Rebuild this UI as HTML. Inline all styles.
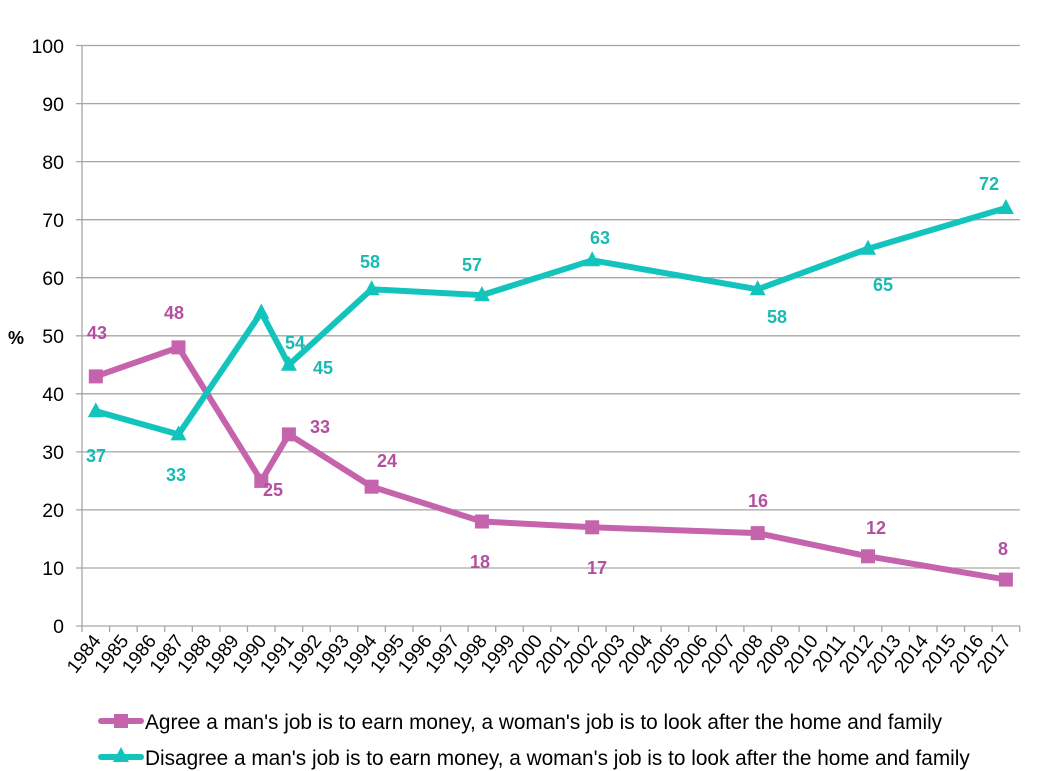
<!DOCTYPE html>
<html><head><meta charset="utf-8"><style>body{margin:0;background:#fff}svg{display:block}</style></head>
<body>
<svg width="1063" height="771" xmlns="http://www.w3.org/2000/svg" font-family="Liberation Sans, sans-serif">
<g stroke="#a6a6a6" stroke-width="1.3">
<line x1="76" y1="45.5" x2="1020" y2="45.5"/><line x1="76" y1="103.6" x2="1020" y2="103.6"/><line x1="76" y1="161.6" x2="1020" y2="161.6"/><line x1="76" y1="219.7" x2="1020" y2="219.7"/><line x1="76" y1="277.7" x2="1020" y2="277.7"/><line x1="76" y1="335.8" x2="1020" y2="335.8"/><line x1="76" y1="393.8" x2="1020" y2="393.8"/><line x1="76" y1="451.9" x2="1020" y2="451.9"/><line x1="76" y1="509.9" x2="1020" y2="509.9"/><line x1="76" y1="568" x2="1020" y2="568"/><line x1="76" y1="626" x2="1020" y2="626"/>
<line x1="82" y1="45.5" x2="82" y2="626"/>
</g>
<g id="ticks" stroke="#a6a6a6" stroke-width="1.3"></g>
<g font-size="19.5" text-anchor="end" fill="#000">
<text x="64" y="53">100</text><text x="64" y="111">90</text><text x="64" y="169">80</text><text x="64" y="227">70</text><text x="64" y="285">60</text><text x="64" y="343">50</text><text x="64" y="401">40</text><text x="64" y="459">30</text><text x="64" y="517">20</text><text x="64" y="575">10</text><text x="64" y="633">0</text>
</g>
<text x="8" y="344" font-size="18" font-weight="bold">%</text>
<g id="years" font-size="19" text-anchor="end"></g>
<polyline fill="none" stroke="#c564ac" stroke-width="6" stroke-linejoin="round" points="95.8,376.4 178.5,347.4 261.3,480.9 288.9,434.4 371.6,486.7 481.9,521.5 592.2,527.3 757.7,533.1 868,556.3 1005.9,579.6"/>
<polyline fill="none" stroke="#13c4bd" stroke-width="6" stroke-linejoin="round" points="95.8,411.2 178.5,434.4 261.3,312.5 288.9,364.8 371.6,289.3 481.9,295.1 592.2,260.3 757.7,289.3 868,248.7 1005.9,208"/>
<g id="mk"></g>
<g font-size="18" font-weight="bold" text-anchor="middle" fill="#b5509f">
<text x="97" y="339">43</text><text x="174" y="319">48</text><text x="273" y="496">25</text><text x="320" y="433">33</text><text x="387" y="467">24</text><text x="480" y="568">18</text><text x="597" y="574">17</text><text x="758" y="507">16</text><text x="876" y="534">12</text><text x="1003" y="555">8</text>
</g>
<g font-size="18" font-weight="bold" text-anchor="middle" fill="#1bb9b3">
<text x="96" y="462">37</text><text x="176" y="481">33</text><text x="295" y="349">54</text><text x="323" y="374">45</text><text x="370" y="268">58</text><text x="472" y="271">57</text><text x="600" y="244">63</text><text x="777" y="323">58</text><text x="883" y="291">65</text><text x="989" y="190">72</text>
</g>
<line x1="101" y1="721" x2="141" y2="721" stroke="#c564ac" stroke-width="6" stroke-linecap="round"/>
<rect x="114" y="714" width="14" height="14" fill="#c564ac"/>
<line x1="101" y1="757" x2="141" y2="757" stroke="#13c4bd" stroke-width="6" stroke-linecap="round"/>
<polygon points="121,747 129,762 113,762" fill="#13c4bd"/>
<text x="145" y="729" font-size="20.8">Agree a man's job is to earn money, a woman's job is to look after the home and family</text>
<text x="145" y="765" font-size="20.8">Disagree a man's job is to earn money, a woman's job is to look after the home and family</text>
<script>
var t=document.getElementById('ticks'),y=document.getElementById('years'),m=document.getElementById('mk'),ns='http://www.w3.org/2000/svg';
for(var i=0;i<=34;i++){var x=82+i*27.58;var l=document.createElementNS(ns,'line');l.setAttribute('x1',x);l.setAttribute('x2',x);l.setAttribute('y1',626);l.setAttribute('y2',632);t.appendChild(l);}
for(var i=0;i<34;i++){var x=95.8+i*27.58;var e=document.createElementNS(ns,'text');e.setAttribute('transform','translate('+(x+6)+',641) rotate(-52)');e.textContent=1984+i;y.appendChild(e);}
var A=[[95.8,376.4],[178.5,347.4],[261.3,480.9],[288.9,434.4],[371.6,486.7],[481.9,521.5],[592.2,527.3],[757.7,533.1],[868,556.3],[1005.9,579.6]];
var D=[[95.8,411.2],[178.5,434.4],[261.3,312.5],[288.9,364.8],[371.6,289.3],[481.9,295.1],[592.2,260.3],[757.7,289.3],[868,248.7],[1005.9,208]];
A.forEach(function(p){var r=document.createElementNS(ns,'rect');r.setAttribute('x',p[0]-7);r.setAttribute('y',p[1]-7);r.setAttribute('width',14);r.setAttribute('height',14);r.setAttribute('fill','#c564ac');m.appendChild(r);});
D.forEach(function(p){var r=document.createElementNS(ns,'polygon');r.setAttribute('points',p[0]+','+(p[1]-9)+' '+(p[0]+8)+','+(p[1]+6)+' '+(p[0]-8)+','+(p[1]+6));r.setAttribute('fill','#13c4bd');m.appendChild(r);});
</script>
</svg>
</body></html>
